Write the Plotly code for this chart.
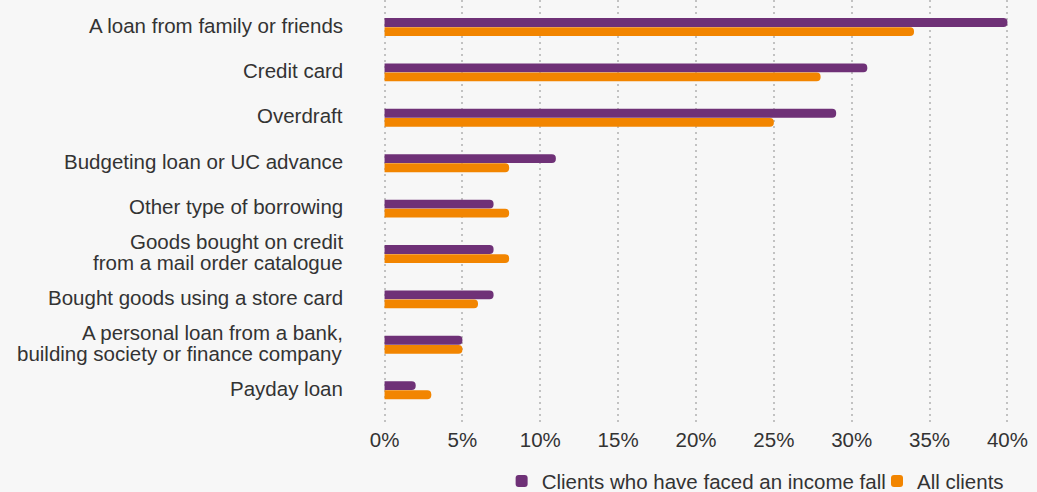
import plotly.graph_objects as go

# Borrowing sources, top to bottom (<br> marks a line break in the label)
categories = [
    "A loan from family or friends",
    "Credit card",
    "Overdraft",
    "Budgeting loan or UC advance",
    "Other type of borrowing",
    "Goods bought on credit<br>from a mail order catalogue",
    "Bought goods using a store card",
    "A personal loan from a bank,<br>building society or finance company",
    "Payday loan",
]

# Share of clients using each source (%)
income_fall = [40, 31, 29, 11, 7, 7, 7, 5, 2]
all_clients = [34, 28, 25, 8, 8, 8, 6, 5, 3]

tick_vals = [0, 5, 10, 15, 20, 25, 30, 35, 40]
tick_text = [f"{v}%" for v in tick_vals]

PURPLE = "#6f3177"
ORANGE = "#f28500"
BG = "#f7f7f7"
TEXT = "#333333"
FONT = "Liberation Sans, Arial, sans-serif"
FSIZE = 20.5
LINE_GAP = 21  # px between lines of a wrapped category label

fig = go.Figure()
fig.add_trace(go.Bar(
    y=categories, x=income_fall, orientation="h",
    name="Clients who have faced an income fall",
    marker=dict(color=PURPLE, cornerradius="50%", line=dict(width=0)),
    hoverinfo="x+name", legend="legend",
))
fig.add_trace(go.Bar(
    y=categories, x=all_clients, orientation="h",
    name="All clients",
    marker=dict(color=ORANGE, cornerradius="50%", line=dict(width=0)),
    hoverinfo="x+name", legend="legend2",
))

# Category labels with tight line spacing for the wrapped ones
for cat in categories:
    lines = cat.split("<br>")
    n = len(lines)
    for i, line in enumerate(lines):
        shift = ((n - 1) / 2 - i) * LINE_GAP + 2
        fig.add_annotation(
            x=0, xref="paper", xanchor="right", xshift=-38,
            y=cat, yref="y", yanchor="middle", yshift=shift,
            text=line, showarrow=False, align="right",
            font=dict(family=FONT, size=FSIZE, color=TEXT),
        )

legend_common = dict(
    orientation="h", yanchor="middle", y=-0.14,
    font=dict(family=FONT, size=FSIZE, color=TEXT),
    bgcolor="rgba(0,0,0,0)", itemwidth=30, tracegroupgap=0,
    xanchor="right",
)

fig.update_layout(
    width=1037, height=492,
    margin=dict(l=383, r=28, t=0, b=70, autoexpand=False),
    paper_bgcolor=BG, plot_bgcolor=BG,
    font=dict(family=FONT, size=FSIZE, color=TEXT),
    barmode="group", bargap=0.6, bargroupgap=0.03,
    showlegend=True,
    legend=dict(x=0.8125, **legend_common),
    legend2=dict(x=1.0, **legend_common),
)

fig.update_xaxes(
    range=[-0.1, 40.1], tickvals=tick_vals, ticktext=tick_text,
    showgrid=True, gridcolor="#c2c2c2", gridwidth=2, griddash="2px,4px",
    zeroline=False, showline=False, ticks="", ticklabelstandoff=3,
    tickfont=dict(family=FONT, size=FSIZE, color=TEXT),
)
fig.update_yaxes(
    type="category", categoryorder="array", categoryarray=categories,
    range=[8.70, -0.595], showticklabels=False,
    showgrid=False, zeroline=False, showline=False, ticks="",
)

fig.write_html("out.html")
